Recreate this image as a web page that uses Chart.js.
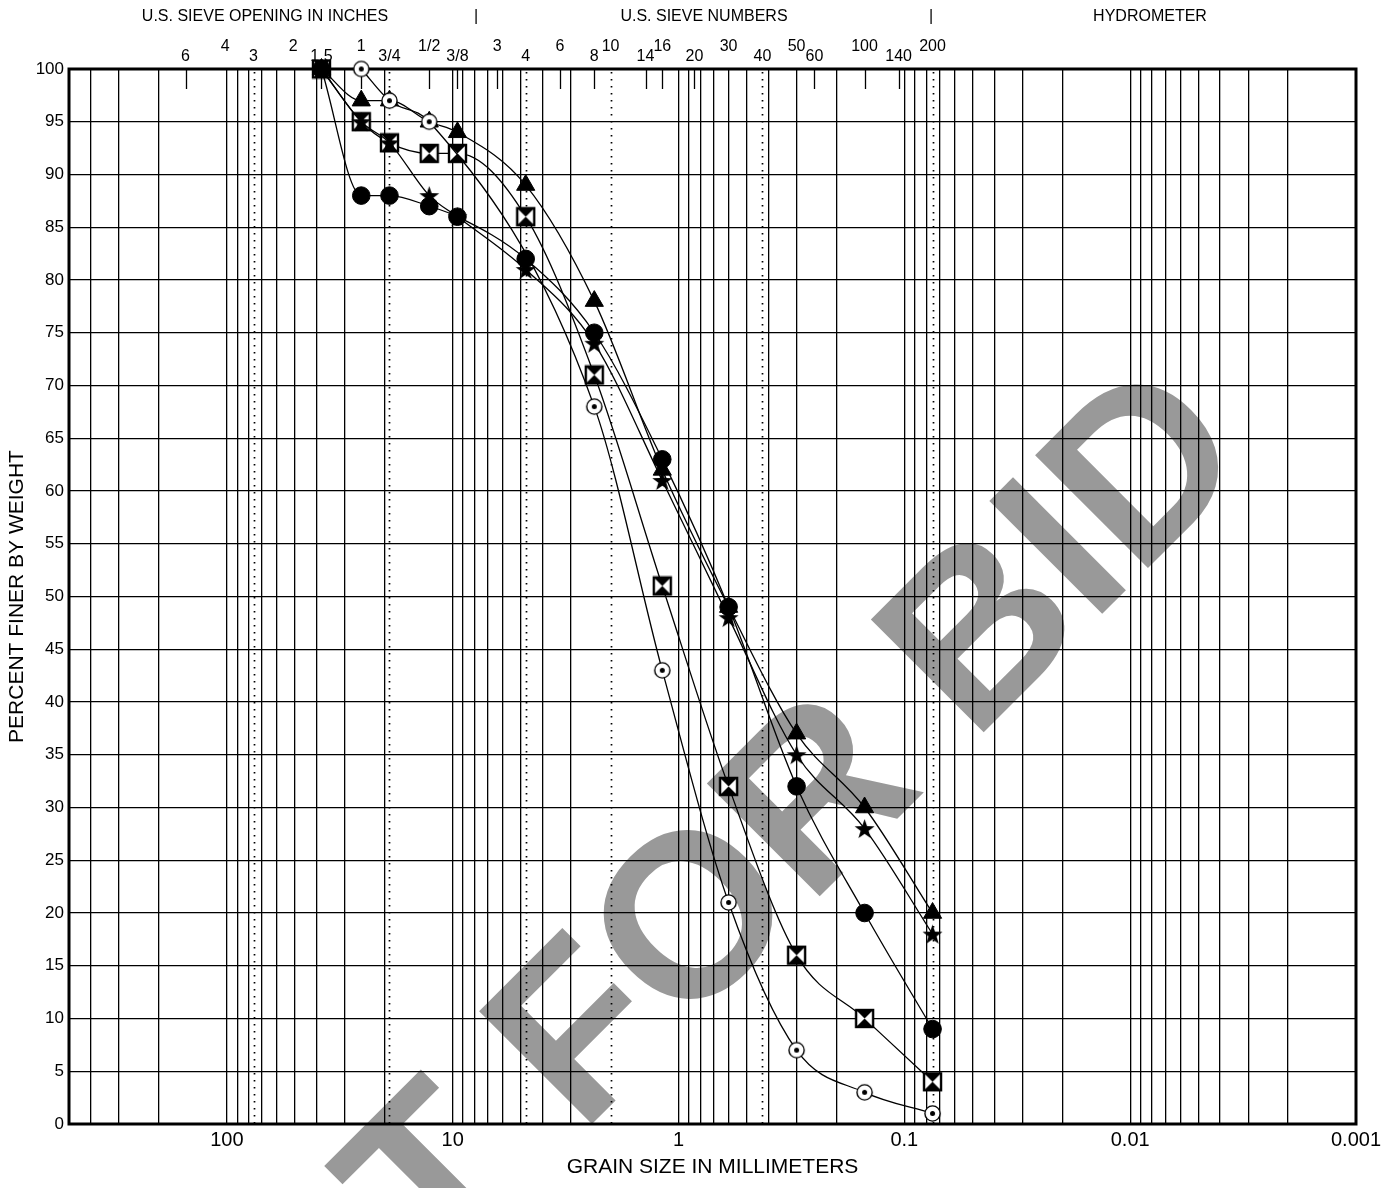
<!DOCTYPE html>
<html>
<head>
<meta charset="utf-8">
<script src="https://cdn.jsdelivr.net/npm/chart.js@4.4.1/dist/chart.umd.min.js"></script>
<style>
  html, body { margin: 0; padding: 0; background: #fff; }
  #chart { display: block; }
</style>
</head>
<body>
<canvas id="chart" width="1396" height="1188"></canvas>
<script>
const FONT = '"Liberation Sans", Arial, Helvetica, sans-serif';

// sieve sizes that were tested (mm)
const sieveSizesMm = [38.1, 25.4, 19.05, 12.7, 9.525, 4.75, 2.36, 1.18, 0.6, 0.3, 0.15, 0.075];

// percent finer, one array per sample (null = not tested / not plotted)
const circleDotPct  = [null, 100, 97, 95, null, null, 68, 43, 21, 7, 3, 1];
const trianglePct   = [100, 97, 97, 95, 94, 89, 78, 62, 49, 37, 30, 20];
const dotPct        = [100, 88, 88, 87, 86, 82, 75, 63, 49, 32, 20, 9];
const starPct       = [100, 95, 93, 88, 86, 81, 74, 61, 48, 35, 28, 18];
const hourglassPct  = [100, 95, 93, 92, 92, 86, 71, 51, 32, 16, 10, 4];

// top scale: sieve openings and numbers
const sieveTickMm     = [152.4, 101.6, 76.2, 50.8, 38.1, 25.4, 19.05, 12.7, 9.525, 6.35, 4.75, 3.35, 2.36, 2.0, 1.4, 1.18, 0.85, 0.6, 0.425, 0.3, 0.25, 0.15, 0.106, 0.075];
const sieveTickLabels = ['6', '4', '3', '2', '1.5', '1', '3/4', '1/2', '3/8', '3', '4', '6', '8', '10', '14', '16', '20', '30', '40', '50', '60', '100', '140', '200'];

// soil class boundaries drawn dotted
const boundaryMm = [76.2, 19.05, 4.75, 2.0, 0.425, 0.075];

const decadeLabels = ['100', '10', '1', '0.1', '0.01', '0.001'];
const yTicks = [0, 5, 10, 15, 20, 25, 30, 35, 40, 45, 50, 55, 60, 65, 70, 75, 80, 85, 90, 95, 100];

// log grid 0.001 .. 500
const xGrid = [];
for (let e = -3; e <= 2; e++) {
  for (let m = 1; m <= 9; m++) {
    const v = +(m * Math.pow(10, e)).toPrecision(6);
    if (v <= 500) xGrid.push(v);
  }
}

function toPoints(vals) {
  return sieveSizesMm.map((s, i) => ({ x: s, y: vals[i] }));
}

// ---- marker images ----
function makeMarker(size, draw) {
  const c = document.createElement('canvas');
  c.width = size; c.height = size;
  draw(c.getContext('2d'), size / 2);
  return c;
}

const circleDotImg = makeMarker(19, (g, c) => {
  g.beginPath(); g.arc(c, c, 7.6, 0, Math.PI * 2);
  g.fillStyle = '#fff'; g.fill();
  g.lineWidth = 1.4; g.strokeStyle = '#000'; g.stroke();
  g.beginPath(); g.arc(c, c, 2.5, 0, Math.PI * 2);
  g.fillStyle = '#000'; g.fill();
});

const hourglassImg = makeMarker(21, (g, c) => {
  const h = 8.5;
  g.fillStyle = '#fff';
  g.fillRect(c - h, c - h, 2 * h, 2 * h);
  g.fillStyle = '#000';
  g.beginPath(); g.moveTo(c - h, c - h); g.lineTo(c + h, c - h); g.lineTo(c, c); g.closePath(); g.fill();
  g.beginPath(); g.moveTo(c - h, c + h); g.lineTo(c + h, c + h); g.lineTo(c, c); g.closePath(); g.fill();
  g.lineWidth = 2.4; g.strokeStyle = '#000';
  g.strokeRect(c - h, c - h, 2 * h, 2 * h);
});

const starImg = makeMarker(23, (g, c) => {
  g.beginPath();
  for (let i = 0; i < 10; i++) {
    const r = i % 2 === 0 ? 10.5 : 4.2;
    const a = -Math.PI / 2 + i * Math.PI / 5;
    const px = c + r * Math.cos(a), py = c + 1 + r * Math.sin(a);
    if (i === 0) g.moveTo(px, py); else g.lineTo(px, py);
  }
  g.closePath();
  g.fillStyle = '#000'; g.fill();
});

function series(vals, style, radius) {
  return {
    data: toPoints(vals),
    borderColor: '#000',
    backgroundColor: '#000',
    borderWidth: 1.3,
    pointStyle: style,
    pointRadius: radius,
    pointBorderWidth: 1,
    pointBorderColor: '#000',
    pointBackgroundColor: '#000',
    cubicInterpolationMode: 'monotone',
    spanGaps: true,
    clip: false
  };
}

// ---- plugins ----
const watermark = {
  id: 'watermark',
  beforeDraw(chart) {
    const ctx = chart.ctx;
    ctx.save();
    ctx.fillStyle = '#999999';
    ctx.font = 'bold 232px ' + FONT;
    ctx.textBaseline = 'alphabetic';
    ctx.translate(581, 1135);
    ctx.rotate(-Math.PI / 4);
    const w = ctx.measureText('NOT ').width;
    ctx.fillText('NOT ', -w, 0);
    ctx.fillText('FOR BID', 0, 0);
    ctx.restore();
  }
};

const overlay = {
  id: 'overlay',
  beforeDatasetsDraw(chart) {
    const { ctx, chartArea: a, scales: { x } } = chart;
    const linePx = xGrid.concat(boundaryMm).map(v => x.getPixelForValue(v));
    ctx.save();
    // dotted class boundaries
    ctx.strokeStyle = '#000';
    ctx.lineWidth = 1.7;
    ctx.setLineDash([1.6, 5.4]);
    boundaryMm.forEach(v => {
      const px = Math.round(x.getPixelForValue(v)) + 0.5;
      ctx.beginPath(); ctx.moveTo(px, a.top + 3); ctx.lineTo(px, a.bottom); ctx.stroke();
    });
    ctx.setLineDash([]);
    // sieve ticks along the top (skip those sitting on a grid line)
    ctx.lineWidth = 1.3;
    sieveTickMm.forEach(v => {
      const p = x.getPixelForValue(v);
      if (linePx.some(q => Math.abs(q - p) < 2.5)) return;
      const px = Math.round(p) + 0.5;
      ctx.beginPath(); ctx.moveTo(px, a.top); ctx.lineTo(px, a.top + 20); ctx.stroke();
    });
    // frame
    ctx.lineWidth = 3;
    ctx.strokeRect(a.left, a.top, a.right - a.left, a.bottom - a.top);
    // top labels
    ctx.fillStyle = '#000';
    ctx.textAlign = 'center';
    ctx.textBaseline = 'middle';
    ctx.font = '16px ' + FONT;
    sieveTickMm.forEach((v, i) => {
      const px = x.getPixelForValue(v);
      ctx.fillText(sieveTickLabels[i], px, i % 2 === 0 ? 57 : 47);
    });
    ctx.font = '16px ' + FONT;
    ctx.fillText('U.S. SIEVE OPENING IN INCHES', 265, 17);
    ctx.fillText('|', 476, 17);
    ctx.fillText('U.S. SIEVE NUMBERS', 704, 17);
    ctx.fillText('|', 931, 17);
    ctx.fillText('HYDROMETER', 1150, 17);
    ctx.restore();
  }
};

new Chart(document.getElementById('chart'), {
  type: 'line',
  data: {
    datasets: [
      series(circleDotPct, circleDotImg, 8),
      series(trianglePct, 'triangle', 10.5),
      series(dotPct, 'circle', 8.8),
      series(starPct, starImg, 10),
      series(hourglassPct, hourglassImg, 9)
    ]
  },
  options: {
    responsive: false,
    animation: false,
    events: [],
    layout: { padding: { top: 69, right: 40, left: 0, bottom: 0 } },
    plugins: { legend: { display: false }, tooltip: { enabled: false } },
    scales: {
      x: {
        type: 'logarithmic',
        min: 0.001,
        max: 500,
        reverse: true,
        afterBuildTicks: axis => { axis.ticks = xGrid.map(v => ({ value: v })); },
        afterFit: axis => { axis.height = 64; },
        grid: {
          drawTicks: false,
          lineWidth: 1.3,
          color: c => (c.tick && (c.tick.value === 2 || c.tick.value === 500)) ? 'rgba(0,0,0,0)' : '#000'
        },
        border: { display: false },
        ticks: {
          autoSkip: false,
          maxRotation: 0,
          padding: 4,
          color: '#000',
          font: { family: FONT, size: 20 },
          callback: v => {
            const lg = Math.log10(v);
            if (Math.abs(lg - Math.round(lg)) > 1e-9) return '';
            const idx = 2 - Math.round(lg);
            return decadeLabels[idx] || '';
          }
        },
        title: {
          display: true,
          text: 'GRAIN SIZE IN MILLIMETERS',
          color: '#000',
          font: { family: FONT, size: 21 },
          padding: { top: 0, bottom: 8 }
        }
      },
      y: {
        min: 0,
        max: 100,
        afterBuildTicks: axis => { axis.ticks = yTicks.map(v => ({ value: v })); },
        afterFit: axis => { axis.width = 69; },
        grid: { drawTicks: false, lineWidth: 1.3, color: '#000' },
        border: { display: false },
        ticks: {
          padding: 5,
          color: '#000',
          font: { family: FONT, size: 17 }
        },
        title: {
          display: true,
          text: 'PERCENT FINER BY WEIGHT',
          color: '#000',
          font: { family: FONT, size: 21 },
          padding: { top: 5, bottom: 0 }
        }
      }
    }
  },
  plugins: [watermark, overlay]
});
</script>
</body>
</html>
